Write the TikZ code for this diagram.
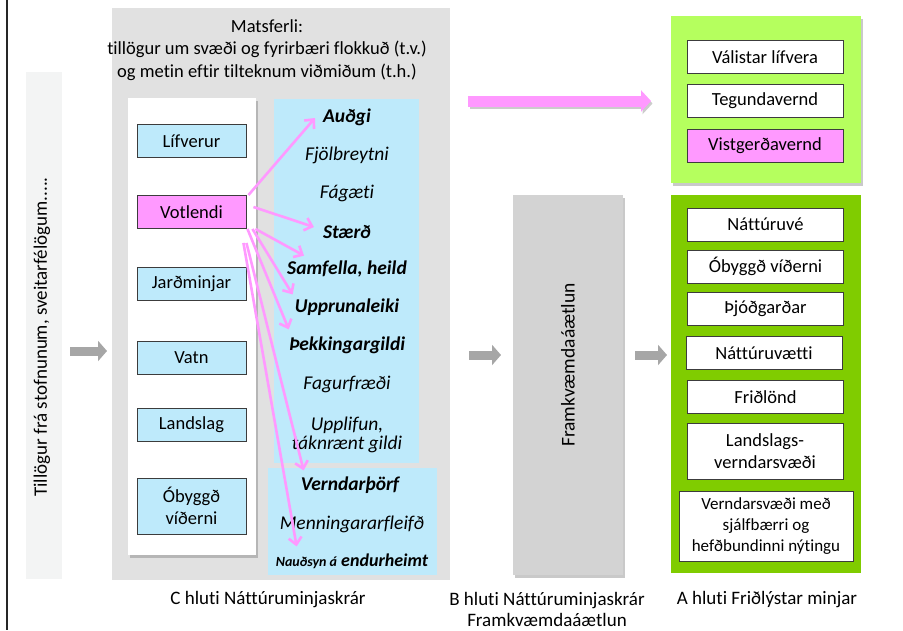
\documentclass[tikz,border=0pt]{standalone}
\usepackage{fontspec}
\setmainfont{Carlito}[Ligatures=NoCommon]
\usetikzlibrary{arrows.meta,shadows,calc}
\definecolor{panelgray}{RGB}{225,225,225}
\definecolor{lblue}{RGB}{190,234,251}
\definecolor{pinkc}{RGB}{255,153,255}
\definecolor{lgreen}{RGB}{181,255,94}
\definecolor{dgreen}{RGB}{128,204,0}
\definecolor{bpanel}{RGB}{211,211,211}
\definecolor{leftpanel}{RGB}{243,244,244}
\definecolor{arrgray}{RGB}{166,166,166}
\definecolor{edgec}{RGB}{60,60,60}
\tikzset{
  base/.style={font=\fontsize{18.5}{21}\selectfont},
  tbox/.style={base, draw=edgec, line width=0.9pt, minimum width=109pt, minimum height=33pt, inner sep=0pt, align=center},
  rbox/.style={base, draw=edgec, line width=0.9pt, fill=white, minimum width=156pt, minimum height=33pt, inner sep=0pt, align=center},
  crit/.style={font=\fontsize{19.5}{21}\selectfont\itshape, inner sep=0pt, align=center},
  critb/.style={font=\fontsize{19.5}{21}\selectfont\bfseries\itshape, inner sep=0pt, align=center},
  panel/.style={inner sep=0pt, anchor=north west},
  shad/.style={drop shadow={shadow xshift=1.5pt, shadow yshift=-2.5pt, opacity=0.35, fill=black!60}},
  pinkarrow/.style={draw=pinkc, line width=2.6pt, -{Straight Barb[length=7pt,width=13pt,line width=2.6pt]}},
  grayarrow/.style={draw=arrgray, line width=9pt, -{Triangle[length=9pt,width=20pt]}},
  bigpink/.style={draw=pinkc, line width=11pt, -{Triangle[length=10pt,width=21pt]}},
  lbl/.style={font=\fontsize{19}{21}\selectfont, inner sep=0pt, align=center},
}
\begin{document}
\begin{tikzpicture}[x=1pt,y=-1pt]
\useasboundingbox (0,0) rectangle (903,630);
\fill[white] (0,0) rectangle (903,630);
\draw[line width=1.4pt, black!85] (7,0) -- (7,630);

% left source panel
\node[panel, fill=leftpanel, minimum width=36pt, minimum height=507pt] (src) at (26,72) {};
\node[base, rotate=90, font=\fontsize{19}{22}\selectfont] (srct) at (42,337) {Tillögur frá stofnunum, sveitarfélögum.....};

% C panel
\node[panel, fill=panelgray, minimum width=338pt, minimum height=572pt] (cpanel) at (112,8) {};
\node[lbl, font=\fontsize{18.5}{22.5}\selectfont] (title) at (267,50) {Matsferli:\\tillögur um svæði og fyrirbæri flokkuð (t.v.)\\og metin eftir tilteknum viðmiðum (t.h.)};

% white list
\node[panel, fill=white, shad, minimum width=128pt, minimum height=457pt] (wlist) at (128,98) {};
\node[tbox, fill=lblue] (lif) at (191.5,141) {Lífverur};
\node[tbox, fill=pinkc] (vot) at (191.5,212) {Votlendi};
\node[tbox, fill=lblue] (jar) at (191.5,284) {Jarðminjar};
\node[tbox, fill=lblue] (vat) at (191.5,358) {Vatn};
\node[tbox, fill=lblue] (lan) at (191.5,425) {Landslag};
\node[tbox, fill=lblue, minimum height=56pt, font=\fontsize{18.5}{22}\selectfont] (oby) at (191.5,506) {Óbyggð\\víðerni};

% criteria panels
\node[panel, fill=lblue, minimum width=145pt, minimum height=364pt] (crit1) at (274,99) {};
\node[panel, fill=lblue, minimum width=169pt, minimum height=107pt] (crit2) at (268,468) {};
\node[critb] (audgi) at (347,117) {Auðgi};
\node[crit] (fjol) at (347,155) {Fjölbreytni};
\node[crit] (fag) at (347,193) {Fágæti};
\node[critb] (staerd) at (347,232) {Stærð};
\node[critb] (samf) at (347,269) {Samfella, heild};
\node[critb] (upp) at (347,307) {Upprunaleiki};
\node[critb] (thek) at (347,345) {Þekkingargildi};
\node[crit] (fagur) at (347,384) {Fagurfræði};
\node[crit, font=\fontsize{19.5}{19.5}\selectfont\itshape] (upl) at (347,435) {Upplifun,\\táknrænt gildi};
\node[critb] (vern) at (350,485) {Verndarþörf};
\node[crit] (menn) at (352,524) {Menningararfleifð};
\node[critb, font=\fontsize{18}{21}\selectfont\bfseries\itshape] (naud) at (352,561) {{\fontsize{14}{16}\selectfont Nauðsyn á} endurheimt};

% pink arrows
\draw[pinkarrow] ($(vot.north east)+(2,0)$) -- ($(audgi.west)+(-8,1)$);
\draw[pinkarrow] ($(vot.east)+(7,-5)$) -- ($(staerd.west)+(-9,-5)$);
\draw[pinkarrow] ($(vot.south east)+(9,0)$) -- ($(samf.north west)+(17,-5)$);
\draw[pinkarrow] ($(vot.south east)+(6,0)$) -- ($(upp.north west)+(-2,-4)$);
\draw[pinkarrow] ($(vot.south east)+(1,0)$) -- ($(thek.north west)+(0,-7)$);
\draw[pinkarrow] ($(vot.south east)+(0,14)$) -- ($(vern.north west)+(3,-6)$);
\draw[pinkarrow] ($(vot.south east)+(-3,14)$) -- ($(naud.north west)+(21,-7)$);

% big pink arrow
\coordinate (pkA) at (468,101);
\coordinate (pkB) at (651,101);
\draw[bigpink, draw=black!20] ($(pkA)+(1.5,2.5)$) -- ($(pkB)+(1.5,2.5)$);
\draw[bigpink] (pkA) -- (pkB);

% left gray arrow
\coordinate (gaA) at (70,351);
\coordinate (gaB) at (107,351);
\draw[grayarrow] (gaA) -- (gaB);

% B panel
\node[panel, fill=bpanel, shad, minimum width=110pt, minimum height=380pt] (bpan) at (513,195) {};
\node[base, rotate=90, font=\fontsize{19.5}{22}\selectfont] (bpt) at (568,365) {Framkvæmdaáætlun};
\coordinate (gbA) at (469,355);
\coordinate (gbB) at (501,355);
\draw[grayarrow] (gbA) -- (gbB);
\coordinate (gcA) at (635,355);
\coordinate (gcB) at (667,355);
\draw[grayarrow] (gcA) -- (gcB);

% light green panel
\node[panel, fill=lgreen, shad, minimum width=190pt, minimum height=167pt] (lgp) at (671,16) {};
\node[rbox] (val) at (765,57) {Válistar lífvera};
\node[rbox] (teg) at (765,101) {Tegundavernd};
\node[rbox, fill=pinkc] (vis) at (765,146) {Vistgerðavernd};

% dark green panel
\node[panel, fill=dgreen, minimum width=190pt, minimum height=378pt] (dgp) at (671,195) {};
\node[rbox] (natve) at (765.5,224.5) {Náttúruvé};
\node[rbox] (obyv) at (765.5,266.5) {Óbyggð víðerni};
\node[rbox] (thjod) at (765.5,309) {Þjóðgarðar};
\node[rbox] (natvae) at (764,353) {Náttúruvætti};
\node[rbox] (fridl) at (765.5,397) {Friðlönd};
\node[rbox, minimum height=56pt, font=\fontsize{18.5}{22}\selectfont] (lands) at (765,451) {Landslags-\\verndarsvæði};
\node[rbox, minimum width=174pt, minimum height=70pt, font=\fontsize{17}{21}\selectfont] (vernds) at (766,526) {Verndarsvæði með\\sjálfbærri og\\hefðbundinni nýtingu};

% bottom labels
\node[lbl] (clab) at (268,600) {C hluti Náttúruminjaskrár};
\node[lbl, font=\fontsize{19}{21}\selectfont] (blab) at (547,609) {B hluti Náttúruminjaskrár\\Framkvæmdaáætlun};
\node[lbl] (alab) at (767,600) {A hluti Friðlýstar minjar};
\end{tikzpicture}
\end{document}
